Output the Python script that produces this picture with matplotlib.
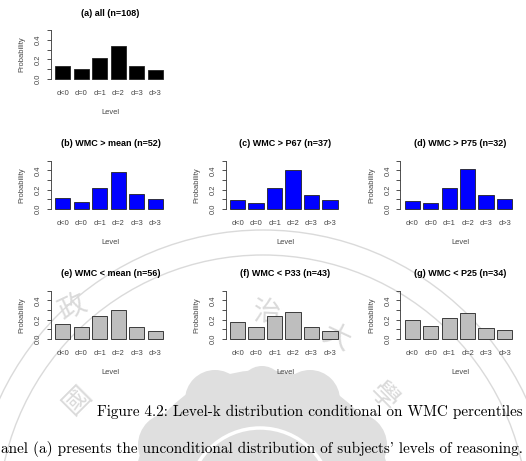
"""Level-k distribution conditional on WMC percentiles (figure 4.2 page scan)."""
import numpy as np
import matplotlib

matplotlib.use("Agg")
import matplotlib.pyplot as plt
from matplotlib.patches import Circle

W, H = 526, 461

levels = ["d<0", "d=0", "d=1", "d=2", "d=3", "d>3"]
p_all = [0.133, 0.100, 0.220, 0.340, 0.138, 0.090]
p_gt_mean = [0.110, 0.072, 0.212, 0.378, 0.150, 0.100]
p_gt_p67 = [0.092, 0.065, 0.222, 0.403, 0.140, 0.092]
p_gt_p75 = [0.082, 0.062, 0.222, 0.410, 0.144, 0.100]
p_lt_mean = [0.150, 0.126, 0.233, 0.300, 0.120, 0.082]
p_lt_p33 = [0.175, 0.123, 0.236, 0.284, 0.120, 0.085]
p_lt_p25 = [0.198, 0.133, 0.222, 0.264, 0.110, 0.089]

titles = ["(a) all (n=108)",
          "(b) WMC > mean (n=52)", "(c) WMC > P67 (n=37)", "(d) WMC > P75 (n=32)",
          "(e) WMC < mean (n=56)", "(f) WMC < P33 (n=43)", "(g) WMC < P25 (n=34)"]
caption = "Figure 4.2: Level-k distribution conditional on WMC percentiles"
body = "anel (a) presents the unconditional distribution of subjects' levels of reasoning."

# pixel layout: (first bar left, last bar right, y of 0.0, px per unit prob)
paneles = [
    (p_all, "black", (55, 166, 79, 97.5)),
    (p_gt_mean, "#0000ff", (55, 166, 209, 96.75)),
    (p_gt_p67, "#0000ff", (230, 340.7, 209, 96.75)),
    (p_gt_p75, "#0000ff", (404.7, 515.3, 209, 96.75)),
    (p_lt_mean, "#bebebe", (55, 166, 339, 96.75)),
    (p_lt_p33, "#bebebe", (230, 340.7, 339, 96.75)),
    (p_lt_p25, "#bebebe", (404.7, 515.3, 339, 96.75)),
]

fig = plt.figure(figsize=(W / 100, H / 100), dpi=100)
fig.patch.set_facecolor("white")

# faint university watermark behind everything
bg = fig.add_axes([0, 0, 1, 1], zorder=-1)
bg.set_xlim(0, W)
bg.set_ylim(H, 0)
bg.axis("off")
wm = "#dadada"
bg.add_patch(Circle((262, 500), 130, color="#dfdfdf", lw=0))
for cx, cy, r in [(170, 445, 32), (215, 400, 30), (262, 388, 22), (310, 400, 30), (355, 445, 32)]:
    bg.add_patch(Circle((cx, cy), r, color="#dfdfdf", lw=0))
bg.add_patch(Circle((260, 500), 72, fill=False, edgecolor="white", lw=2.5))
for r in (290, 265):
    bg.add_patch(Circle((263, 520), r, fill=False, edgecolor=wm, lw=1.0))
cjk = ["Noto Sans CJK TC", "DejaVu Sans"]
for ch, x, y, rot in [("國", 77, 400, 45), ("政", 72, 308, 25), ("治", 267, 313, -3),
                      ("大", 337, 337, -25), ("學", 383, 397, -45)]:
    bg.text(x, y, ch, family=cjk, fontsize=20, color=wm, rotation=rot,
            ha="center", va="center")

xs = 0.7 + 1.2 * np.arange(len(levels))
small = 5.4
for (vals, color, (L, R, y0, sy)), title in zip(paneles, titles):
    sx = (R - L) / 7.2
    left, right = L - 0.288 * sx, R + 0.288 * sx
    bottom, top = y0 + 0.02 * sy, y0 - 0.52 * sy
    ax = fig.add_axes([left / W, 1 - bottom / H, (right - left) / W, (bottom - top) / H])
    ax.patch.set_alpha(0)
    ax.bar(xs, vals, width=1.0, color=color, edgecolor="#222222", lw=0.6)
    ax.set_xlim(-0.088, 7.688)
    ax.set_ylim(-0.02, 0.52)
    for s in ("top", "right", "bottom"):
        ax.spines[s].set_visible(False)
    ax.spines["left"].set_bounds(0, 0.5)
    ax.spines["left"].set_linewidth(0.6)
    ax.spines["left"].set_color("#333333")
    ax.set_yticks(np.arange(0, 0.51, 0.1),
                  ["0.0", "", "0.2", "", "0.4", ""])
    ax.tick_params(axis="y", length=3, width=0.6, color="#333333", pad=3.2,
                   labelsize=small, labelcolor="#444444", labelrotation=90)
    for lab in ax.get_yticklabels():
        lab.set_va("center")
    ax.set_xticks(xs, levels)
    ax.tick_params(axis="x", length=0, pad=6.5, labelsize=small, labelcolor="#444444")
    for lab in ax.get_xticklabels() + ax.get_yticklabels():
        lab.set_family("Liberation Sans")
    ax.set_xlabel("Level", family="Liberation Sans", fontsize=small, color="#444444",
                  labelpad=9)
    ax.set_ylabel("Probability", family="Liberation Sans", fontsize=small,
                  color="#444444", labelpad=7)
    ax.set_title(title, family="Liberation Sans", fontsize=6.5, fontweight="bold", pad=9)

fig.text(96.7 / W, 1 - 416 / H, caption, family="cmr10", fontsize=10.9, va="baseline")
fig.text(1 / W, 1 - 453 / H, body, family="cmr10", fontsize=10.9, va="baseline")

fig.savefig("out.png", dpi=100)
